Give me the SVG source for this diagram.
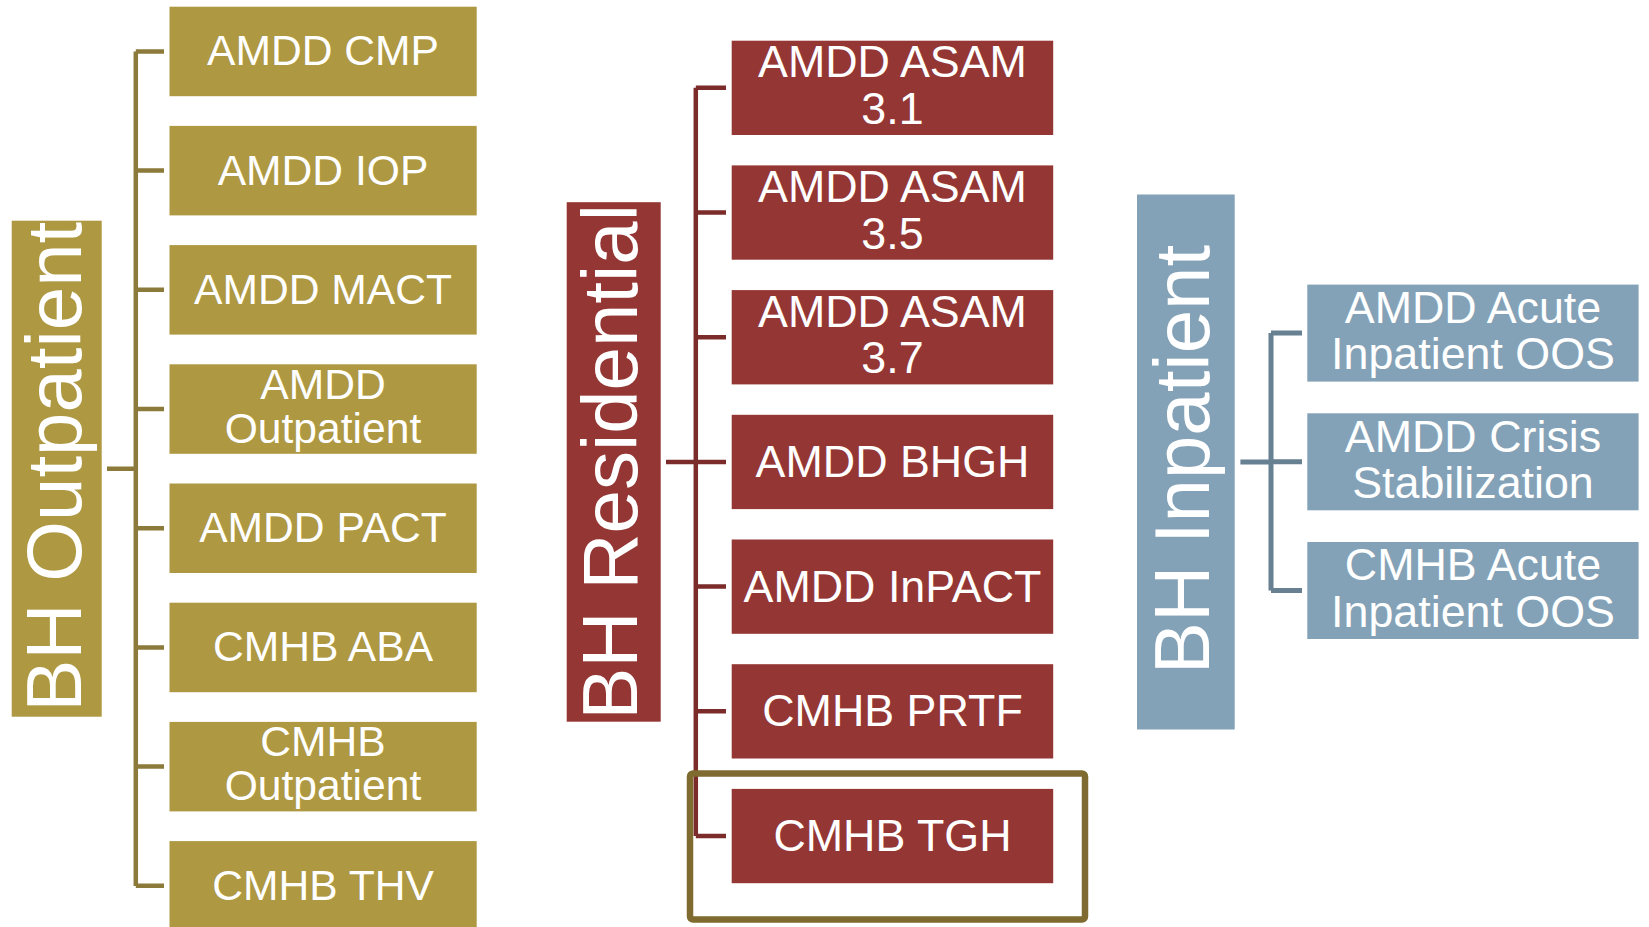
<svg xmlns="http://www.w3.org/2000/svg" width="1649" height="927" viewBox="0 0 1649 927">
<style>
text{font-family:"Liberation Sans",Arial,sans-serif;fill:#fff;text-anchor:middle}
.op{fill:#AE9842}
.rs{fill:#943634}
.ip{fill:#84A2B7}
.t42{font-size:42.6px}
.t44{font-size:44.8px}
.big{font-size:78px}
.cop{stroke:#8C7A3A;stroke-width:4.5;fill:none}
.crs{stroke:#7B2C2A;stroke-width:4.5;fill:none}
.cip{stroke:#678092;stroke-width:5;fill:none}
</style>
<rect width="1649" height="927" fill="#fff"/>
<g id="connectors">
<path class="cop" d="M107,468.7H135.8M135.8,51.4V886M135.8,51.4H164M135.8,170.6H164M135.8,289.8H164M135.8,409H164M135.8,528.2H164M135.8,647.4H164M135.8,766.6H164M135.8,885.8H164"/>
<path class="crs" d="M666,462H695.8M695.8,87.8V836M695.8,87.8H726M695.8,212.5H726M695.8,337.2H726M695.8,461.9H726M695.8,586.6H726M695.8,711.3H726M695.8,836H726"/>
<path class="cip" d="M1240.4,462H1271M1271,333.1V590.5M1271,333.1H1302M1271,461.8H1302M1271,590.5H1302"/>
</g>
<g id="bh-outpatient"><rect class="op" x="11.7" y="220.7" width="90" height="496"/><text class="big" transform="translate(81,466.7) rotate(-90)">BH Outpatient</text></g>
<g id="amdd-cmp"><rect class="op" x="169.5" y="6.7" width="307.2" height="89.5"/><text class="t42" x="323" y="65.4">AMDD CMP</text></g>
<g id="amdd-iop"><rect class="op" x="169.5" y="125.9" width="307.2" height="89.5"/><text class="t42" x="323" y="184.6">AMDD IOP</text></g>
<g id="amdd-mact"><rect class="op" x="169.5" y="245.1" width="307.2" height="89.5"/><text class="t42" x="323" y="303.8">AMDD MACT</text></g>
<g id="amdd-outpatient"><rect class="op" x="169.5" y="364.3" width="307.2" height="89.5"/><text class="t42" x="323" y="398.8">AMDD</text><text class="t42" x="323" y="442.6">Outpatient</text></g>
<g id="amdd-pact"><rect class="op" x="169.5" y="483.5" width="307.2" height="89.5"/><text class="t42" x="323" y="542.2">AMDD PACT</text></g>
<g id="cmhb-aba"><rect class="op" x="169.5" y="602.7" width="307.2" height="89.5"/><text class="t42" x="323" y="661.4">CMHB ABA</text></g>
<g id="cmhb-outpatient"><rect class="op" x="169.5" y="721.9" width="307.2" height="89.5"/><text class="t42" x="323" y="756.4">CMHB</text><text class="t42" x="323" y="800.2">Outpatient</text></g>
<g id="cmhb-thv"><rect class="op" x="169.5" y="841.1" width="307.2" height="89.5"/><text class="t42" x="323" y="899.8">CMHB THV</text></g>
<g id="bh-residential"><rect class="rs" x="566.7" y="202.2" width="94" height="519.5"/><text class="big" transform="translate(637,461.9) rotate(-90)">BH Residential</text></g>
<g id="amdd-asam-31"><rect class="rs" x="731.7" y="40.7" width="321.5" height="94.3"/><text class="t44" x="892.5" y="77.3">AMDD ASAM</text><text class="t44" x="892.5" y="123.9">3.1</text></g>
<g id="amdd-asam-35"><rect class="rs" x="731.7" y="165.4" width="321.5" height="94.3"/><text class="t44" x="892.5" y="202">AMDD ASAM</text><text class="t44" x="892.5" y="248.6">3.5</text></g>
<g id="amdd-asam-37"><rect class="rs" x="731.7" y="290.1" width="321.5" height="94.3"/><text class="t44" x="892.5" y="326.7">AMDD ASAM</text><text class="t44" x="892.5" y="373.3">3.7</text></g>
<g id="amdd-bhgh"><rect class="rs" x="731.7" y="414.8" width="321.5" height="94.3"/><text class="t44" x="892.5" y="476.9">AMDD BHGH</text></g>
<g id="amdd-inpact"><rect class="rs" x="731.7" y="539.5" width="321.5" height="94.3"/><text class="t44" x="892.5" y="601.6">AMDD InPACT</text></g>
<g id="cmhb-prtf"><rect class="rs" x="731.7" y="664.2" width="321.5" height="94.3"/><text class="t44" x="892.5" y="726.3">CMHB PRTF</text></g>
<g id="cmhb-tgh"><rect class="rs" x="731.7" y="788.9" width="321.5" height="94.3"/><text class="t44" x="892.5" y="851">CMHB TGH</text></g>
<g id="highlight"><rect x="690" y="773.5" width="395" height="146" rx="3" fill="none" stroke="#7F6B2F" stroke-width="6.5"/></g>
<g id="bh-inpatient"><rect class="ip" x="1137" y="194.5" width="97.7" height="535"/><text class="big" transform="translate(1209.4,459.5) rotate(-90)">BH Inpatient</text></g>
<g id="amdd-acute-inpatient-oos"><rect class="ip" x="1307.3" y="284.6" width="331.3" height="97"/><text class="t44" x="1473" y="322.9">AMDD Acute</text><text class="t44" x="1473" y="369.3">Inpatient OOS</text></g>
<g id="amdd-crisis-stabilization"><rect class="ip" x="1307.3" y="413.3" width="331.3" height="97"/><text class="t44" x="1473" y="451.6">AMDD Crisis</text><text class="t44" x="1473" y="498">Stabilization</text></g>
<g id="cmhb-acute-inpatient-oos"><rect class="ip" x="1307.3" y="542" width="331.3" height="97"/><text class="t44" x="1473" y="580.3">CMHB Acute</text><text class="t44" x="1473" y="626.7">Inpatient OOS</text></g>
</svg>
